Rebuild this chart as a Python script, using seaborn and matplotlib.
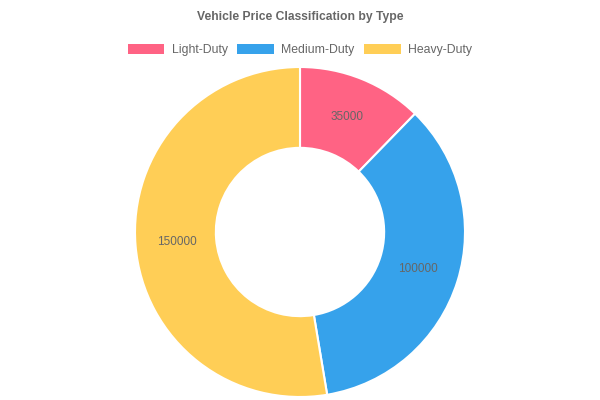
import matplotlib
matplotlib.use("Agg")
import matplotlib.pyplot as plt
import seaborn as sns
from matplotlib.patches import Patch

# Data

categories = ["Light-Duty", "Medium-Duty", "Heavy-Duty"]
prices = [35000, 100000, 150000]
colors = ["#FF6384", "#36A2EB", "#FFCE56"]

sns.set_theme(style="white")
plt.rcParams["font.family"] = ["Liberation Sans", "DejaVu Sans"]

fig = plt.figure(figsize=(6, 4), dpi=100)
ax = fig.add_axes([0.225, 0.0075, 0.55, 0.825])

wedges, texts = ax.pie(
    prices,
    colors=colors,
    startangle=90,
    counterclock=False,
    labels=[str(p) for p in prices],
    labeldistance=0.75,
    wedgeprops=dict(width=0.49, edgecolor="white", linewidth=1.5),
    textprops=dict(color="#666666", fontsize=8.5),
)
for t in texts:
    t.set_horizontalalignment("center")
    t.set_verticalalignment("center")
ax.set_aspect("equal")
ax.set_xlim(-1, 1)
ax.set_ylim(-1, 1)
ax.axis("off")

# Title and legend

fig.text(0.5, 0.958, "Vehicle Price Classification by Type",
         ha="center", va="center", fontsize=8.7, fontweight="bold", color="#666666")

handles = [Patch(facecolor=c, edgecolor="none") for c in colors]
fig.legend(
    handles, categories,
    loc="center", bbox_to_anchor=(0.5, 0.875), ncol=3,
    frameon=False, fontsize=8.8, labelcolor="#666666",
    handlelength=3.0, handleheight=0.9, handletextpad=0.6, columnspacing=0.8,
)

fig.savefig("out.png", dpi=100)
